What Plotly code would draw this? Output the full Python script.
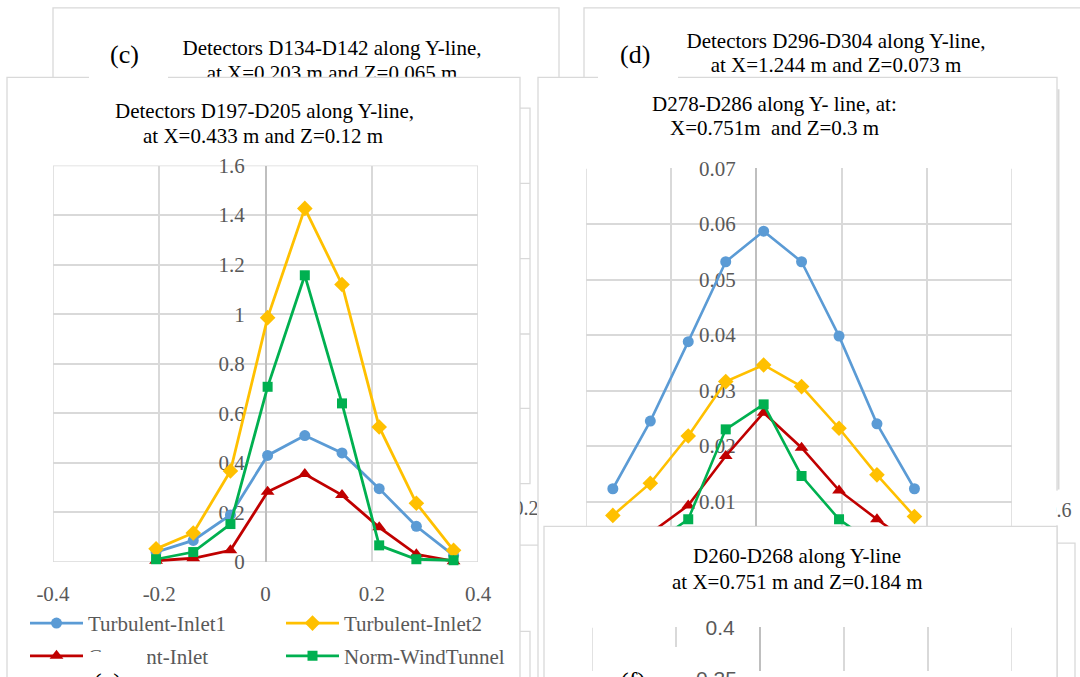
import plotly.graph_objects as go

W, H = 1080, 677
def fx(px): return px / W
def fy(py): return 1 - py / H

SERIF = "Liberation Serif"
SANS = "Liberation Sans"
GRID = "#d9d9d9"
AXIS = "#bfbfbf"
TICK = "#595959"

SERIES = ["Turbulent-Inlet1", "Turbulent-Inlet2", "Constant-Inlet", "Norm-WindTunnel"]
COLORS = ["#5B9BD5", "#FFC000", "#C00000", "#00B050"]
SYMBOLS = ["circle", "diamond", "triangle-up", "square"]
SIZES = [11, 12, 12, 10]
LEGENDS = ["legend", "legend", "legend2", "legend2"]

# Front-left panel: D197-D205
Y_E = [-0.206, -0.136, -0.066, 0.004, 0.074, 0.144, 0.214, 0.284, 0.354]
E_TI1 = [0.04, 0.087, 0.19, 0.43, 0.51, 0.44, 0.296, 0.144, 0.027]
E_TI2 = [0.053, 0.117, 0.367, 0.986, 1.427, 1.12, 0.545, 0.237, 0.047]
E_CI = [0.005, 0.015, 0.047, 0.283, 0.355, 0.27, 0.14, 0.031, 0.003]
E_NW = [0.011, 0.04, 0.153, 0.707, 1.157, 0.64, 0.067, 0.011, 0.007]

# Front-right panel: D278-D286
Y_F = [-0.337, -0.249, -0.160, -0.072, 0.017, 0.106, 0.194, 0.283, 0.371]
F_TI1 = [0.0123, 0.0245, 0.0388, 0.0532, 0.0587, 0.0532, 0.0398, 0.024, 0.0123]
F_TI2 = [0.0075, 0.0133, 0.0218, 0.0316, 0.0346, 0.0307, 0.0232, 0.0148, 0.0073]
F_CI = [0.002, 0.0043, 0.0093, 0.0182, 0.026, 0.0197, 0.012, 0.0068, 0.002]
F_NW = [0.001, 0.002, 0.0068, 0.023, 0.0275, 0.0146, 0.0068, 0.002, 0.001]

XE_RANGE = [-0.4, 0.4]
YE_RANGE = [0, 1.6]
XE_TICKS = [-0.4, -0.2, 0, 0.2, 0.4]
XE_TEXT = ["-0.4", "-0.2", "0", "0.2", "0.4"]
YE_TICKS = [0, 0.2, 0.4, 0.6, 0.8, 1.0, 1.2, 1.4, 1.6]
YE_TEXT = ["0", "0.2", "0.4", "0.6", "0.8", "1", "1.2", "1.4", "1.6"]
XF_RANGE = [-0.4, 0.6]
XF_TICKS = [-0.4, -0.2, 0, 0.2, 0.4, 0.6]
YF_TICKS = [0.01, 0.02, 0.03, 0.04, 0.05, 0.06, 0.07]
YF_TEXT = ["0.01", "0.02", "0.03", "0.04", "0.05", "0.06", "0.07"]
YG_RANGE = [0.35, 0.4]
YG_TICKS = [0.4, 0.35]
YG_TEXT = ["0.4", "0.35"]

BACK_TITLES = ["Detectors D134-D142 along Y-line,", "at X=0.203 m and Z=0.065 m",
               "Detectors D296-D304 along Y-line,", "at X=1.244 m and Z=0.073 m"]
BACK_TITLE_X = [332, 332, 836, 836]
BACK_TITLE_Y = [50, 75, 43, 67]

fig = go.Figure()

e_data = [E_TI1, E_TI2, E_CI, E_NW]
f_data = [F_TI1, F_TI2, F_CI, F_NW]
for i in range(4):
    fig.add_trace(go.Scatter(
        x=Y_E, y=e_data[i], name=SERIES[i], mode="lines+markers",
        line=dict(color=COLORS[i], width=2.8),
        marker=dict(symbol=SYMBOLS[i], size=SIZES[i], color=COLORS[i]),
        cliponaxis=False, legend=LEGENDS[i], xaxis="x", yaxis="y"))
for i in range(4):
    fig.add_trace(go.Scatter(
        x=Y_F, y=f_data[i], name=SERIES[i], mode="lines+markers",
        line=dict(color=COLORS[i], width=2.6),
        marker=dict(symbol=SYMBOLS[i], size=SIZES[i], color=COLORS[i]),
        showlegend=False, xaxis="x2", yaxis="y2"))
fig.add_trace(go.Scatter(x=[], y=[], showlegend=False, xaxis="x3", yaxis="y3"))
fig.add_trace(go.Scatter(
    x=BACK_TITLE_X, y=BACK_TITLE_Y, text=BACK_TITLES, mode="text",
    textfont=dict(family=SERIF, size=21, color="black"), textposition="middle center",
    showlegend=False, hoverinfo="skip", xaxis="x5", yaxis="y5"))
fig.add_trace(go.Scatter(
    x=[526], y=[515], text=["0.2"], mode="text",
    textfont=dict(family=SERIF, size=20, color=TICK), showlegend=False,
    hoverinfo="skip", xaxis="x6", yaxis="y6"))
fig.add_trace(go.Scatter(
    x=[1059], y=[517], text=["0.6"], mode="text",
    textfont=dict(family=SERIF, size=20, color=TICK), showlegend=False,
    hoverinfo="skip", xaxis="x7", yaxis="y7"))

tickfont = dict(family=SERIF, size=21, color=TICK)
common_x = dict(showgrid=True, gridcolor=GRID, gridwidth=1.5, zeroline=True,
                zerolinecolor=AXIS, zerolinewidth=1.5, showline=False, fixedrange=True)
common_y = dict(showgrid=True, gridcolor=GRID, gridwidth=1.5, zeroline=False,
                showline=False, layer="below traces", fixedrange=True)

ybot_f = 0.07 - (531 - 170) / (506 - 170) * 0.06
hidden = dict(visible=False, fixedrange=True)
legfont = dict(family=SERIF, size=21, color=TICK)

fig.update_layout(
    width=W, height=H, margin=dict(l=0, r=0, t=0, b=0),
    template="none", paper_bgcolor="white", plot_bgcolor="rgba(0,0,0,0)",
    font=dict(family=SERIF, size=21, color=TICK),
    xaxis=dict(domain=[fx(53), fx(478)], range=XE_RANGE, tickvals=XE_TICKS,
               ticktext=XE_TEXT, ticks="outside", ticklen=13, layer="above traces",
               tickcolor="rgba(0,0,0,0)", tickfont=tickfont, anchor="y", **common_x),
    yaxis=dict(domain=[fy(567), fy(167)], range=YE_RANGE, tickvals=YE_TICKS,
               ticktext=YE_TEXT, ticks="outside", ticklen=17,
               tickcolor="rgba(0,0,0,0)", tickfont=tickfont, anchor="free",
               position=fx(266), **common_y),
    xaxis2=dict(domain=[fx(586), fx(1012)], range=XF_RANGE, tickvals=XF_TICKS,
                showticklabels=False, anchor="y2", layer="below traces", **common_x),
    yaxis2=dict(domain=[fy(531), fy(170)], range=[ybot_f, 0.07], tickvals=YF_TICKS,
                ticktext=YF_TEXT, ticks="outside", ticklen=17,
                tickcolor="rgba(0,0,0,0)", tickfont=tickfont, anchor="free",
                position=fx(757), **common_y),
    xaxis3=dict(domain=[fx(592), fx(1012)], range=XF_RANGE, tickvals=XF_TICKS,
                showticklabels=False, anchor="y3", layer="below traces", **common_x),
    yaxis3=dict(domain=[0, fy(633)], range=YG_RANGE, tickvals=YG_TICKS[:1],
                ticktext=YG_TEXT[:1], ticks="outside", ticklen=21,
                tickcolor="rgba(0,0,0,0)", tickfont=dict(family=SANS, size=21, color=TICK),
                anchor="free", position=fx(760), **common_y),
    xaxis5=dict(domain=[0, 1], range=[0, W], anchor="y5", **hidden),
    yaxis5=dict(domain=[fy(77.5), 1], range=[77.5, 0], anchor="x5", **hidden),
    xaxis6=dict(domain=[fx(520), fx(537)], range=[520, 537], anchor="y6", **hidden),
    yaxis6=dict(domain=[fy(548), fy(490)], range=[548, 490], anchor="x6", **hidden),
    xaxis7=dict(domain=[fx(1056), 1], range=[1056, 1080], anchor="y7", **hidden),
    yaxis7=dict(domain=[fy(530), fy(495)], range=[530, 495], anchor="x7", **hidden),
    legend=dict(orientation="h", x=fx(25), xanchor="left", y=fy(629), yanchor="middle",
                font=legfont, itemwidth=53, entrywidth=188, entrywidthmode="pixels",
                bgcolor="rgba(0,0,0,0)", borderwidth=0),
    legend2=dict(orientation="h", x=fx(25), xanchor="left", y=fy(662), yanchor="middle",
                 font=legfont, itemwidth=53, entrywidth=188, entrywidthmode="pixels",
                 bgcolor="rgba(0,0,0,0)", borderwidth=0),
    showlegend=True,
)

PANEL = "#d9d9d9"
def rect(x0, y0, x1, y1, fill="white", width=1.3):
    return dict(type="rect", xref="paper", yref="paper", x0=fx(x0), x1=fx(x1),
                y0=fy(y1), y1=fy(y0), fillcolor=fill, layer="below",
                line=dict(color=PANEL, width=width))
def seg(x0, y0, x1, y1, width=1.3, color=PANEL):
    return dict(type="line", xref="paper", yref="paper", x0=fx(x0), x1=fx(x1),
                y0=fy(y0), y1=fy(y1), layer="below", line=dict(color=color, width=width))
def frame(xr, yr, xa, ya):
    return dict(type="rect", xref=xa, yref=ya, x0=xr[0], x1=xr[1], y0=yr[0], y1=yr[1],
                layer="below", fillcolor="rgba(0,0,0,0)", line=dict(color=GRID, width=1.5))
def vedge(xv, yr, xa, ya):
    return dict(type="line", xref=xa, yref=ya, x0=xv, x1=xv, y0=yr[0], y1=yr[1],
                layer="below", line=dict(color=GRID, width=1.5))

shapes = [
    rect(53, 8, 559, 720),
    rect(584, 8, 1120, 720),
    rect(470, 109, 530, 488, fill="rgba(0,0,0,0)"),
    seg(470, 185, 530, 185), seg(470, 261, 530, 261),
    seg(470, 337, 530, 337), seg(470, 412, 530, 412),
    rect(30, 550, 560, 720),
    rect(470, 637, 530, 720, fill="rgba(0,0,0,0)"),
    rect(1000, 548, 1075, 720),
    rect(7, 78, 520, 720),
    rect(538, 78, 1057, 720),
    seg(1058.5, 90, 1058.5, 494, width=2),
    seg(1057, 495, 1057, 530, width=3, color="white"),
    rect(544, 531, 1057, 720),
    frame(XE_RANGE, YE_RANGE, "x", "y"),
    vedge(XF_RANGE[0], [ybot_f, 0.07], "x2", "y2"),
    vedge(XF_RANGE[1], [ybot_f, 0.07], "x2", "y2"),
    vedge(XF_RANGE[0], YG_RANGE, "x3", "y3"),
    vedge(XF_RANGE[1], YG_RANGE, "x3", "y3"),
]
fig.update_layout(shapes=shapes)

def ann(text, x, y, size=21, color="black", family=SERIF):
    return dict(text=text, x=fx(x), y=fy(y), xref="paper", yref="paper",
                showarrow=False, xanchor="center", yanchor="middle",
                font=dict(family=family, size=size, color=color))
def box(x0, y0, x1, y1):
    return dict(text=" ", x=fx(x0), y=fy(y0), xref="paper", yref="paper",
                showarrow=False, xanchor="left", yanchor="top", width=x1 - x0,
                height=y1 - y0, bgcolor="white", borderpad=0, borderwidth=0)

annotations = [
    ann("Detectors D197-D205 along Y-line,", 264, 112),
    ann("at X=0.433 m and Z=0.12 m", 263, 137),
    ann("D278-D286 along Y- line, at:", 774, 105),
    ann("X=0.751m\u00a0 and Z=0.3 m", 774, 129),
    ann("D260-D268 along Y-line", 797, 561),
    ann("at X=0.751 m and Z=0.184 m", 797, 587),
    box(89, 30, 168, 82), ann("(c)", 124, 55, size=26),
    box(598, 28, 678, 82), ann("(d)", 635, 55, size=26),
    box(86, 658, 147, 720), ann("(e)", 107, 689, size=26),
    box(602, 653, 690, 720), ann("(f)", 633, 688, size=26),
    ann(YG_TEXT[1], 716, 685, size=21, color=TICK, family=SANS),
]
fig.update_layout(annotations=annotations)

fig.write_html("out.html")
